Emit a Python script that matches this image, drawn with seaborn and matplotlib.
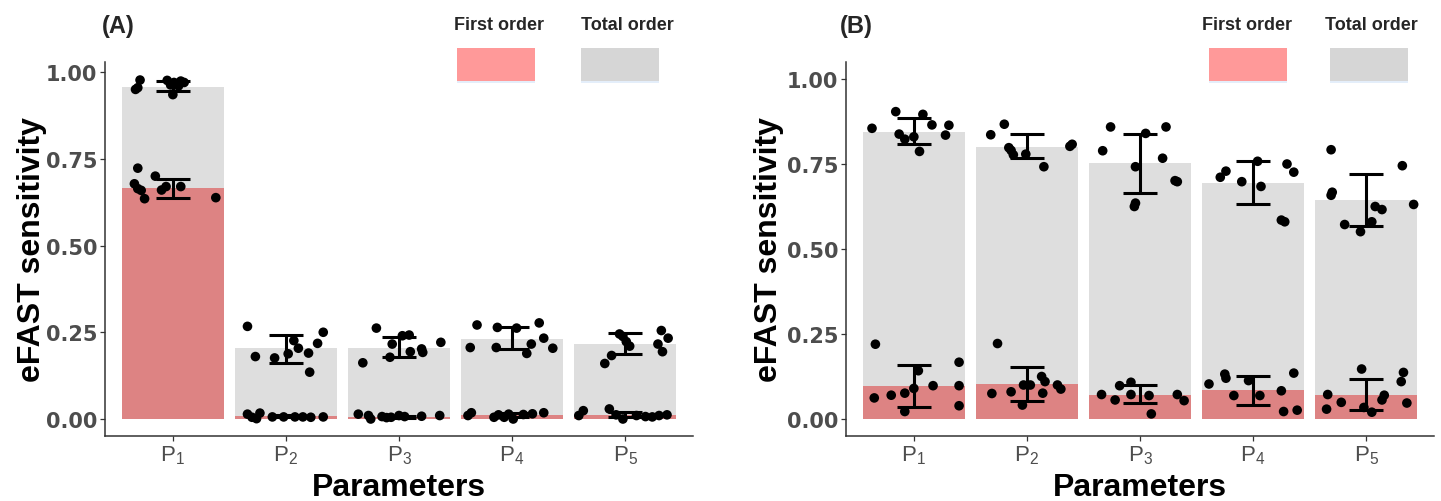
import numpy as np
import pandas as pd
import matplotlib
matplotlib.use("Agg")
import matplotlib.pyplot as plt
from matplotlib.patches import Rectangle
import seaborn as sns

sns.set_theme(style="white")
plt.rcParams["font.family"] = ["Liberation Sans", "DejaVu Sans"]
plt.rcParams["mathtext.default"] = "regular"

# ---------------- data ----------------
params = ["P1", "P2", "P3", "P4", "P5"]
tick_labels = [r"$\mathregular{P_{1}}$", r"$\mathregular{P_{2}}$", r"$\mathregular{P_{3}}$",
               r"$\mathregular{P_{4}}$", r"$\mathregular{P_{5}}$"]

# Panel A
a_total = [0.958, 0.204, 0.206, 0.231, 0.215]
a_first = [0.666, 0.009, 0.007, 0.012, 0.012]
a_total_lo = [0.946, 0.162, 0.178, 0.202, 0.188]
a_total_hi = [0.974, 0.242, 0.237, 0.264, 0.247]
a_first_lo = [0.638, 0.005, 0.004, 0.006, 0.005]
a_first_hi = [0.693, 0.012, 0.010, 0.018, 0.019]

a_total_pts = [
    [0.950, 0.977, 0.955, 0.976, 0.970, 0.974, 0.963, 0.935, 0.960, 0.970],
    [0.267, 0.180, 0.176, 0.188, 0.226, 0.204, 0.190, 0.135, 0.218, 0.250],
    [0.162, 0.262, 0.216, 0.178, 0.242, 0.194, 0.202, 0.192, 0.221, 0.240],
    [0.206, 0.271, 0.264, 0.206, 0.189, 0.216, 0.277, 0.233, 0.204, 0.262],
    [0.160, 0.183, 0.238, 0.223, 0.216, 0.255, 0.233, 0.194, 0.245, 0.210],
]
a_total_jit = [
    [-0.33, -0.29, -0.31, -0.05, 0.01, 0.07, -0.02, 0.00, 0.05, 0.10],
    [-0.34, -0.27, -0.10, 0.02, 0.07, 0.11, 0.20, 0.21, 0.28, 0.33],
    [-0.32, -0.20, -0.06, -0.08, 0.09, 0.10, 0.20, 0.21, 0.37, 0.03],
    [-0.37, -0.31, -0.13, -0.14, 0.13, 0.17, 0.24, 0.28, 0.36, 0.04],
    [-0.18, -0.12, -0.02, 0.01, 0.29, 0.32, 0.38, 0.33, -0.05, 0.04],
]
a_first_pts = [
    [0.723, 0.678, 0.664, 0.659, 0.635, 0.700, 0.660, 0.670, 0.670, 0.638],
    [0.014, 0.005, 0.017, 0.001, 0.006, 0.006, 0.006, 0.006, 0.005, 0.006],
    [0.014, 0.010, 0.000, 0.007, 0.005, 0.010, 0.007, 0.008, 0.010, 0.004],
    [0.010, 0.018, 0.005, 0.012, 0.005, 0.000, 0.015, 0.018, 0.014, 0.013],
    [0.010, 0.024, 0.029, 0.012, 0.000, 0.010, 0.007, 0.010, 0.012, 0.006],
]
a_first_jit = [
    [-0.31, -0.34, -0.31, -0.28, -0.25, -0.155, -0.10, -0.06, 0.07, 0.38],
    [-0.34, -0.30, -0.23, -0.26, -0.12, -0.02, 0.08, 0.15, 0.22, 0.33],
    [-0.36, -0.27, -0.25, -0.15, -0.07, 0.00, 0.05, 0.20, 0.36, -0.11],
    [-0.39, -0.36, -0.16, -0.12, -0.07, 0.01, 0.18, 0.28, -0.03, 0.10],
    [-0.41, -0.37, -0.14, -0.08, -0.02, 0.10, 0.18, 0.30, 0.37, 0.24],
]

# Panel B
b_total = [0.845, 0.800, 0.752, 0.694, 0.645]
b_first = [0.098, 0.103, 0.072, 0.085, 0.071]
b_total_lo = [0.810, 0.767, 0.665, 0.632, 0.569]
b_total_hi = [0.884, 0.839, 0.838, 0.758, 0.721]
b_first_lo = [0.036, 0.053, 0.046, 0.041, 0.026]
b_first_hi = [0.160, 0.152, 0.100, 0.127, 0.118]

b_total_pts = [
    [0.855, 0.904, 0.838, 0.823, 0.830, 0.787, 0.896, 0.865, 0.835, 0.864],
    [0.836, 0.867, 0.798, 0.777, 0.779, 0.742, 0.802, 0.808, 0.790],
    [0.789, 0.859, 0.625, 0.635, 0.742, 0.840, 0.767, 0.859, 0.701, 0.698],
    [0.711, 0.729, 0.698, 0.684, 0.758, 0.585, 0.580, 0.750, 0.726],
    [0.792, 0.667, 0.658, 0.572, 0.551, 0.580, 0.625, 0.616, 0.745, 0.631],
]
b_total_jit = [
    [-0.37, -0.16, -0.13, -0.08, 0.00, 0.05, 0.08, 0.16, 0.28, 0.31],
    [-0.32, -0.20, -0.16, -0.12, -0.01, 0.15, 0.38, 0.40, -0.14],
    [-0.33, -0.26, -0.05, -0.04, -0.04, 0.05, 0.20, 0.23, 0.31, 0.33],
    [-0.29, -0.24, -0.10, 0.07, 0.04, 0.25, 0.28, 0.30, 0.36],
    [-0.31, -0.30, -0.31, -0.19, -0.05, 0.05, 0.08, 0.14, 0.32, 0.42],
]
b_first_pts = [
    [0.220, 0.062, 0.070, 0.076, 0.090, 0.142, 0.022, 0.098, 0.167, 0.098, 0.039],
    [0.222, 0.075, 0.080, 0.041, 0.100, 0.100, 0.125, 0.076, 0.110, 0.100, 0.088],
    [0.072, 0.056, 0.098, 0.108, 0.072, 0.069, 0.015, 0.072, 0.054],
    [0.103, 0.132, 0.120, 0.069, 0.113, 0.069, 0.083, 0.135, 0.022, 0.026],
    [0.072, 0.029, 0.049, 0.147, 0.034, 0.020, 0.056, 0.070, 0.110, 0.137, 0.047],
]
b_first_jit = [
    [-0.34, -0.35, -0.20, -0.08, 0.00, 0.04, -0.08, 0.17, 0.40, 0.40, 0.40],
    [-0.26, -0.31, -0.14, -0.04, -0.03, 0.03, 0.13, 0.14, 0.16, 0.27, 0.30],
    [-0.34, -0.22, -0.18, -0.08, -0.08, 0.08, 0.10, 0.33, 0.39],
    [-0.39, -0.25, -0.24, -0.17, -0.04, 0.06, 0.25, 0.36, 0.27, 0.39],
    [-0.34, -0.35, -0.22, -0.04, -0.02, 0.05, 0.14, 0.16, 0.31, 0.33, 0.36],
]

legend_labels = ["First order", "Total order"]
panel_labels = ["(A)", "(B)"]
xlabel = "Parameters"
ylabel = "eFAST sensitivity"

# ---------------- style ----------------
W, H = 1441, 502
c_total = "#DEDEDE"
c_first = "#DD8383"
key_first = "#FF9999"
key_total = "#D6D6D6"
axis_col = "#333333"
tick_col = "#4D4D4D"

fig = plt.figure(figsize=(W / 100, H / 100), dpi=100)
axA = fig.add_axes([105 / W, 65 / H, 588 / W, 374 / H])
axB = fig.add_axes([846 / W, 65 / H, 588 / W, 374 / H])


def draw_panel(ax, total, first, tlo, thi, flo, fhi, tpts, tjit, fpts, fjit, ylim):
    df = pd.DataFrame({"param": params, "total": total, "first": first})
    sns.barplot(data=df, x="param", y="total", color=c_total, width=0.9,
                saturation=1, ax=ax, zorder=1)
    sns.barplot(data=df, x="param", y="first", color=c_first, width=0.9,
                saturation=1, ax=ax, zorder=2)
    for p in ax.patches:
        p.set_edgecolor("none")
    idx = np.arange(len(params))
    for lo, hi in ((tlo, thi), (flo, fhi)):
        lo = np.array(lo)
        hi = np.array(hi)
        ax.errorbar(idx, (lo + hi) / 2, yerr=(hi - lo) / 2, fmt="none",
                    ecolor="black", elinewidth=2.2, capsize=12, capthick=2.2, zorder=4)
    for pts, jit in ((tpts, tjit), (fpts, fjit)):
        for i in idx:
            xs = i + np.array(jit[i])
            ax.scatter(xs, pts[i], s=48, color="black", edgecolors="none", zorder=5)
    ax.set_xlim(-0.6, 4.6)
    ax.set_ylim(*ylim)
    ax.set_yticks([0, 0.25, 0.5, 0.75, 1.0])
    ax.set_yticklabels(["0.00", "0.25", "0.50", "0.75", "1.00"])
    ax.set_xticks(idx)
    ax.set_xticklabels(tick_labels)
    for s in ("top", "right"):
        ax.spines[s].set_visible(False)
    for s in ("left", "bottom"):
        ax.spines[s].set_color(axis_col)
        ax.spines[s].set_linewidth(1.1)
    ax.tick_params(axis="both", direction="out", length=3.6, width=0.9,
                   color=axis_col, left=True, bottom=True)
    ax.tick_params(axis="y", labelsize=15, labelcolor=tick_col, pad=2)
    ax.tick_params(axis="x", labelsize=16, labelcolor=tick_col, pad=2)
    for t in ax.get_yticklabels():
        t.set_fontweight("bold")
        t.set_fontfamily("DejaVu Sans")
    ax.set_xlabel(xlabel, fontsize=23, fontweight="bold", color="black")
    ax.set_ylabel(ylabel, fontsize=23, fontweight="bold", color="black")
    ax.xaxis.label.set_verticalalignment("center")
    ax.yaxis.label.set_verticalalignment("center")
    ax.yaxis.label.set_horizontalalignment("center")
    ax.grid(False)


draw_panel(axA, a_total, a_first, a_total_lo, a_total_hi, a_first_lo, a_first_hi,
           a_total_pts, a_total_jit, a_first_pts, a_first_jit, (-0.049, 1.029))
draw_panel(axB, b_total, b_first, b_total_lo, b_total_hi, b_first_lo, b_first_hi,
           b_total_pts, b_total_jit, b_first_pts, b_first_jit, (-0.05, 1.05))

axA.xaxis.set_label_coords(0.5, (437 - 488) / 374)
axB.xaxis.set_label_coords(0.5, (437 - 488) / 374)
axA.yaxis.set_label_coords((32 - 105) / 588, 0.5)
axB.yaxis.set_label_coords((769 - 846) / 588, 0.5)

# panel labels
fig.text(118 / W, 1 - 26 / H, panel_labels[0], fontsize=17, fontweight="bold",
         ha="center", va="center")
fig.text(856 / W, 1 - 26 / H, panel_labels[1], fontsize=17, fontweight="bold",
         ha="center", va="center")

# legends (keys drawn below their labels)
key_specs = [
    (457, 499, key_first, legend_labels[0]),
    (581, 627, key_total, legend_labels[1]),
    (1209, 1247, key_first, legend_labels[0]),
    (1330, 1371, key_total, legend_labels[1]),
]
for x0, tx, col, lab in key_specs:
    fig.add_artist(Rectangle((x0 / W, 1 - 82 / H), 78 / W, 33 / H,
                             transform=fig.transFigure, facecolor=col,
                             edgecolor="none"))
    fig.add_artist(Rectangle((x0 / W, 1 - 84 / H), 78 / W, 2 / H,
                             transform=fig.transFigure, facecolor="#E4EEFA",
                             edgecolor="none"))
    fig.text(tx / W, 1 - 25 / H, lab, fontsize=13, fontweight="bold",
             ha="center", va="center")

fig.savefig("out.png", dpi=100)
